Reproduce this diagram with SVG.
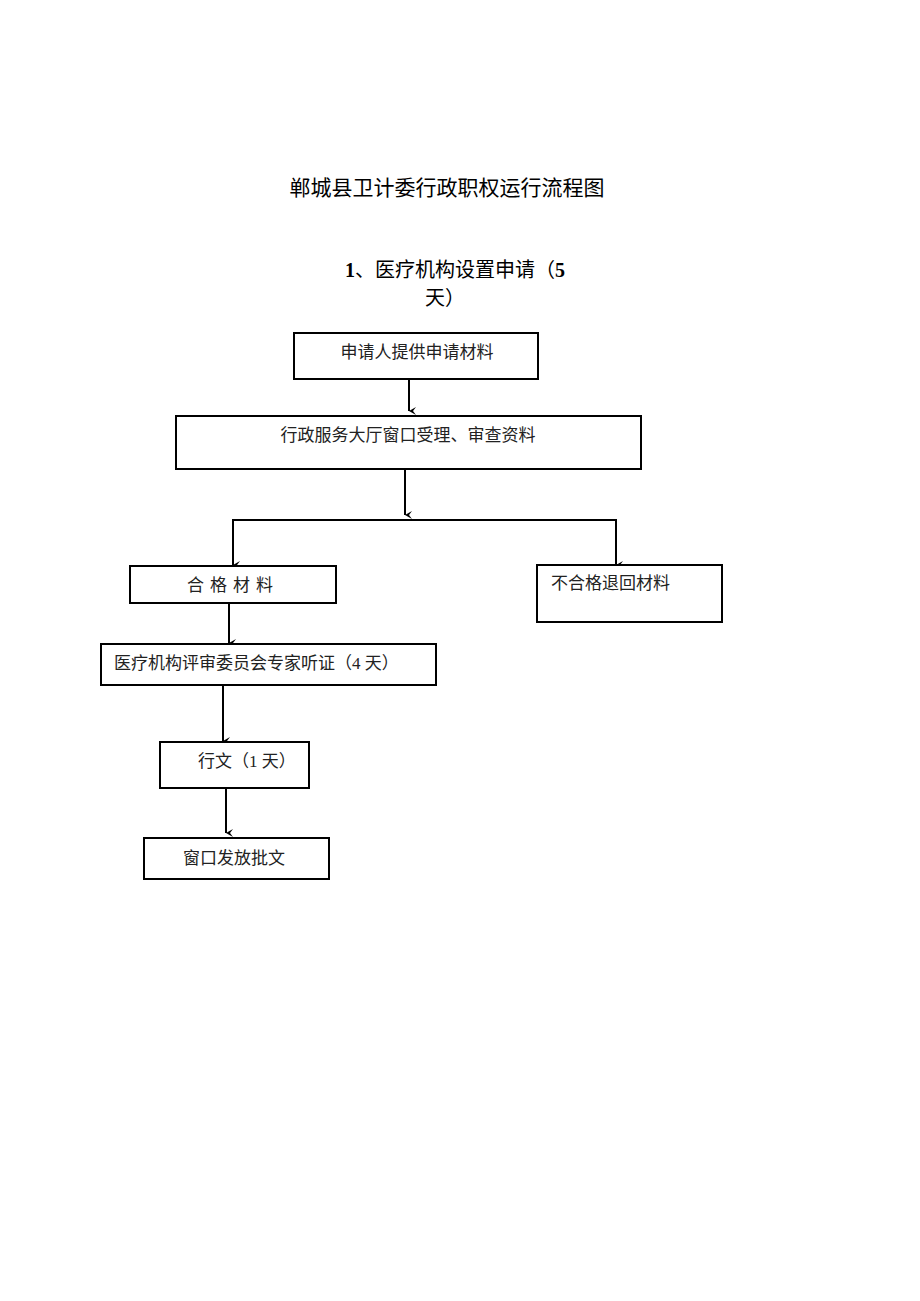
<svg xmlns="http://www.w3.org/2000/svg" width="920" height="1301" viewBox="0 0 920 1301">
<style>
.b{fill:#fff;stroke:#000;stroke-width:2}
.t{font-family:"Liberation Serif","Noto Sans CJK SC",serif;font-size:17px;fill:#222}
.c{fill:none;stroke:#000;stroke-width:2;marker-end:url(#a)}
</style>
<defs><marker id="a" markerWidth="10" markerHeight="10" refX="5" refY="9" orient="auto" markerUnits="userSpaceOnUse" viewBox="0 0 10 10"><path d="M1,2 L5,9 L9,2 L5,5 Z" fill="#000"/></marker></defs>
<rect width="920" height="1301" fill="#fff"/>
<text x="447" y="195" text-anchor="middle" font-family="Noto Sans CJK SC,sans-serif" font-size="21" fill="#000">郸城县卫计委行政职权运行流程图</text>
<text x="455" y="277" text-anchor="middle" font-family="Liberation Serif,Noto Sans CJK SC,serif" font-size="20" fill="#000"><tspan font-weight="bold">1</tspan>、医疗机构设置申请（<tspan font-weight="bold">5</tspan></text>
<text x="445" y="305" text-anchor="middle" font-family="Liberation Serif,Noto Sans CJK SC,serif" font-size="20" fill="#000">天）</text>
<g id="connectors">
<path class="c" d="M409,378 V411"/>
<path class="c" d="M405,470 V515"/>
<path class="c" d="M405,520 H233 V565"/>
<path class="c" d="M405,520 H616 V565"/>
<path class="c" d="M229,604 V643"/>
<path class="c" d="M223,686 V741"/>
<path class="c" d="M226,789 V833"/>
</g>
<g id="n1"><rect class="b" x="294" y="333" width="244" height="46"/><text class="t" x="417" y="358" text-anchor="middle">申请人提供申请材料</text></g>
<g id="n2"><rect class="b" x="176" y="416" width="465" height="53"/><text class="t" x="408" y="441" text-anchor="middle">行政服务大厅窗口受理、审查资料</text></g>
<g id="n3"><rect class="b" x="130" y="566" width="206" height="37"/><text class="t" x="233" y="591" text-anchor="middle" letter-spacing="6">合格材料</text></g>
<g id="n4"><rect class="b" x="537" y="565" width="185" height="57"/><text class="t" x="551" y="589">不合格退回材料</text></g>
<g id="n5"><rect class="b" x="101" y="644" width="335" height="41"/><text class="t" x="114" y="669">医疗机构评审委员会专家听证（4 天）</text></g>
<g id="n6"><rect class="b" x="160" y="742" width="149" height="46"/><text class="t" x="198" y="767">行文（1 天）</text></g>
<g id="n7"><rect class="b" x="144" y="838" width="185" height="41"/><text class="t" x="183" y="864">窗口发放批文</text></g>
</svg>
